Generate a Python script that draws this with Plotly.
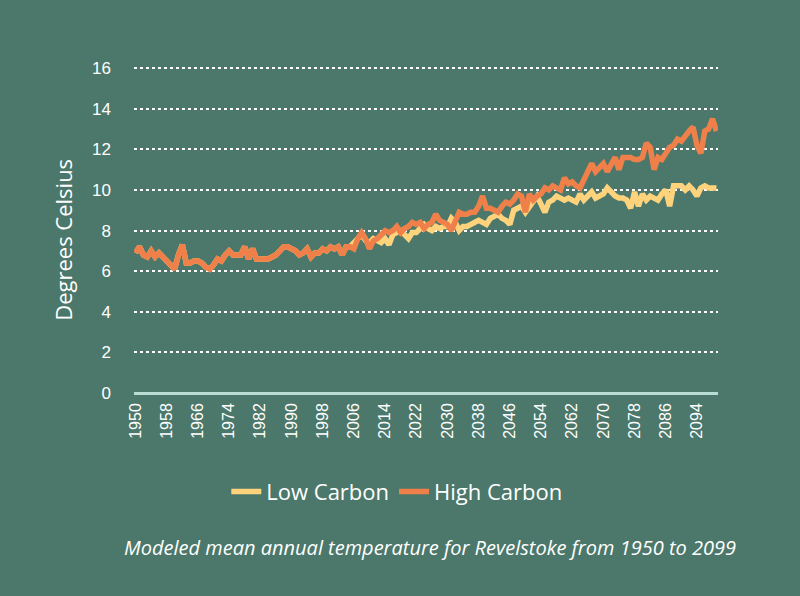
import plotly.graph_objects as go

# Modeled mean annual temperature, Revelstoke (degrees Celsius)
years = list(range(1950, 2100))

# shared historical run 1950-2005
historical = [
    6.9, 7.2, 6.8, 6.7, 7.0, 6.7, 6.9, 6.7, 6.5, 6.3,
    6.1, 6.8, 7.3, 6.4, 6.4, 6.5, 6.5, 6.4, 6.2, 6.1,
    6.3, 6.6, 6.5, 6.8, 7.0, 6.8, 6.8, 6.8, 7.2, 6.6,
    7.1, 6.6, 6.6, 6.6, 6.6, 6.7, 6.8, 7.0, 7.2, 7.2,
    7.1, 7.0, 6.8, 6.9, 7.1, 6.7, 6.9, 6.9, 7.1, 7.0,
    7.2, 7.1, 7.2, 6.8, 7.2, 7.2,
]

# projections 2006-2099
low_proj = [
    7.4, 7.6, 7.8, 7.5, 7.4, 7.6, 7.5, 7.4, 7.6, 7.3,
    7.8, 7.9, 8.0, 7.8, 7.6, 7.9, 7.9, 8.1, 8.3, 8.1,
    8.0, 8.2, 8.1, 8.2, 8.2, 8.6, 8.4, 8.0, 8.2, 8.2,
    8.3, 8.4, 8.5, 8.4, 8.3, 8.6, 8.7, 8.8, 8.6, 8.5,
    8.3, 9.0, 9.1, 9.2, 8.9, 9.2, 9.5, 9.7, 9.3, 8.9,
    9.4, 9.5, 9.7, 9.6, 9.5, 9.6, 9.5, 9.4, 9.8, 9.5,
    9.7, 9.9, 9.6, 9.7, 9.8, 10.1, 9.9, 9.7, 9.6, 9.6,
    9.5, 9.1, 9.9, 9.2, 9.8, 9.5, 9.7, 9.6, 9.5, 9.8,
    10.0, 9.2, 10.2, 10.2, 10.2, 10.0, 10.2, 10.0, 9.7, 10.1,
    10.2, 10.1, 10.1, 10.1,
]

high_proj = [
    7.1, 7.6, 7.9, 7.6, 7.1, 7.5, 7.6, 7.8, 8.0, 7.9,
    8.0, 8.2, 7.9, 8.1, 8.2, 8.4, 8.3, 8.4, 8.1, 8.3,
    8.4, 8.8, 8.5, 8.4, 8.3, 8.0, 8.5, 8.9, 8.8, 8.8,
    8.9, 8.9, 9.2, 9.7, 9.1, 9.1, 9.0, 8.9, 9.2, 9.4,
    9.3, 9.5, 9.8, 9.7, 8.9, 9.8, 9.5, 9.7, 9.8, 10.1,
    10.0, 10.2, 10.1, 10.0, 10.6, 10.3, 10.4, 10.2, 10.1, 10.5,
    10.9, 11.3, 10.9, 11.1, 11.3, 10.9, 11.3, 11.6, 11.0, 11.6,
    11.6, 11.6, 11.5, 11.5, 11.6, 12.3, 12.1, 11.0, 11.6, 11.5,
    11.8, 12.1, 12.2, 12.5, 12.4, 12.7, 12.9, 13.1, 12.2, 11.8,
    12.9, 13.0, 13.5, 12.9,
]

low_carbon = historical + low_proj
high_carbon = historical + high_proj

tick_years = list(range(1950, 2100, 8))
y_ticks = [0, 2, 4, 6, 8, 10, 12, 14, 16]

BG = "#4b786b"
YELLOW = "#ffd27c"
ORANGE = "#f0804a"
TEXT_FONT = "Open Sans"

fig = go.Figure()
fig.add_trace(go.Scatter(x=years, y=low_carbon, name="Low Carbon", mode="lines",
                         line=dict(color=YELLOW, width=5.5)))
fig.add_trace(go.Scatter(x=years, y=high_carbon, name="High Carbon", mode="lines",
                         line=dict(color=ORANGE, width=5.5)))

fig.update_layout(
    width=800, height=596,
    paper_bgcolor=BG, plot_bgcolor=BG,
    margin=dict(l=134, r=82, t=62, b=203),
    font=dict(family=TEXT_FONT, color="white"),
    showlegend=True,
    legend=dict(orientation="h", x=0.45, xanchor="center", y=-0.235, yanchor="top",
                font=dict(size=22, family=TEXT_FONT), bgcolor="rgba(0,0,0,0)"),
    annotations=[
        dict(text="<i>Modeled mean annual temperature for Revelstoke from 1950 to 2099</i>",
             xref="paper", yref="paper", x=1.034, y=-0.468, xanchor="right", yanchor="middle",
             showarrow=False, font=dict(size=20, family=TEXT_FONT, color="white")),
        # y axis title, sitting a little below the plot's middle as in the original
        dict(text="Degrees Celsius", textangle=-90,
             xref="paper", yref="paper", x=-0.122, y=0.462, xanchor="center", yanchor="middle",
             showarrow=False, font=dict(size=22, family=TEXT_FONT, color="white")),
    ],
)

fig.update_xaxes(
    range=[1949.6, 2099.4], tickvals=tick_years, tickangle=-90,
    tickfont=dict(family="Liberation Sans", size=16, color="white"),
    showgrid=False, zeroline=False, showline=False, ticks="", ticklabelstandoff=6,
)
fig.update_yaxes(
    range=[0, 16.3], tickvals=y_ticks,
    tickfont=dict(family="Liberation Sans", size=17, color="white"),
    showgrid=True, gridcolor="white", griddash="dot", gridwidth=1.5,
    zeroline=True, zerolinecolor="#b9ddd5", zerolinewidth=2.5,
    ticks="", ticklabelstandoff=22,
)

fig.write_html("out.html", config={"displayModeBar": False},
               post_script="document.body.style.margin='0px';")
